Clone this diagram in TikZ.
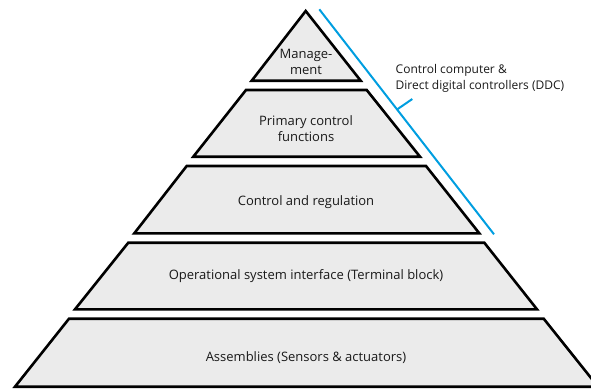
\documentclass[tikz,border=0pt]{standalone}
\usepackage{fontspec}
\setmainfont{Open Sans}
\definecolor{pyrfill}{RGB}{235,235,235}
\definecolor{ddcblue}{RGB}{0,158,224}
\definecolor{txt}{RGB}{25,25,25}
\begin{document}
\begin{tikzpicture}[x=1pt,y=-1pt,
  level/.style={draw=black,line width=2.6pt,fill=pyrfill,line join=miter},
  lbl/.style={font=\fontsize{13}{16}\selectfont,align=center,text=txt,inner sep=0pt},
  ddc/.style={draw=ddcblue,line width=2pt}]
\useasboundingbox (0,0) rectangle (591,388);
\begin{scope}
\clip (0,0) rectangle (591,388);
% level 1
\draw[level] (305.7,11) -- (360.7,80.7) -- (251.7,80.7) -- cycle;
% level 2
\draw[level] (246,90) -- (366.7,90) -- (420,156.7) -- (193.3,156.7) -- cycle;
% level 3
\draw[level] (186.7,166) -- (426,166) -- (479.3,233.3) -- (134.3,233.3) -- cycle;
% level 4
\draw[level] (128.3,242.7) -- (484.3,242.7) -- (537,309.3) -- (75,309.3) -- cycle;
% level 5
\draw[level] (69,318.7) -- (543.7,318.7) -- (598,386.7) -- (15,386.7) -- cycle;
\end{scope}
% labels
\node[lbl] (l1) at (306,61.5) {Manage-\\ment};
\node[lbl] (l2) at (306,128.5) {Primary control\\functions};
\node[lbl] (l3) at (306,202.5) {Control and regulation};
\node[lbl] (l4) at (306,276) {Operational system interface (Terminal block)};
\node[lbl] (l5) at (306,358) {Assemblies (Sensors \& actuators)};
% DDC bracket
\coordinate (b1) at (319.3,9.3);
\coordinate (b2) at (494,234.3);
\coordinate (t1) at (397,109.5);
\coordinate (t2) at (412.3,99);
\draw[ddc] (b1) -- (b2);
\draw[ddc] (t1) -- (t2);
\node[lbl,font=\fontsize{12}{16}\selectfont,anchor=west,align=left] (ddctext) at (395.5,78) {Control computer \&\\Direct digital controllers (DDC)};
\end{tikzpicture}
\end{document}
